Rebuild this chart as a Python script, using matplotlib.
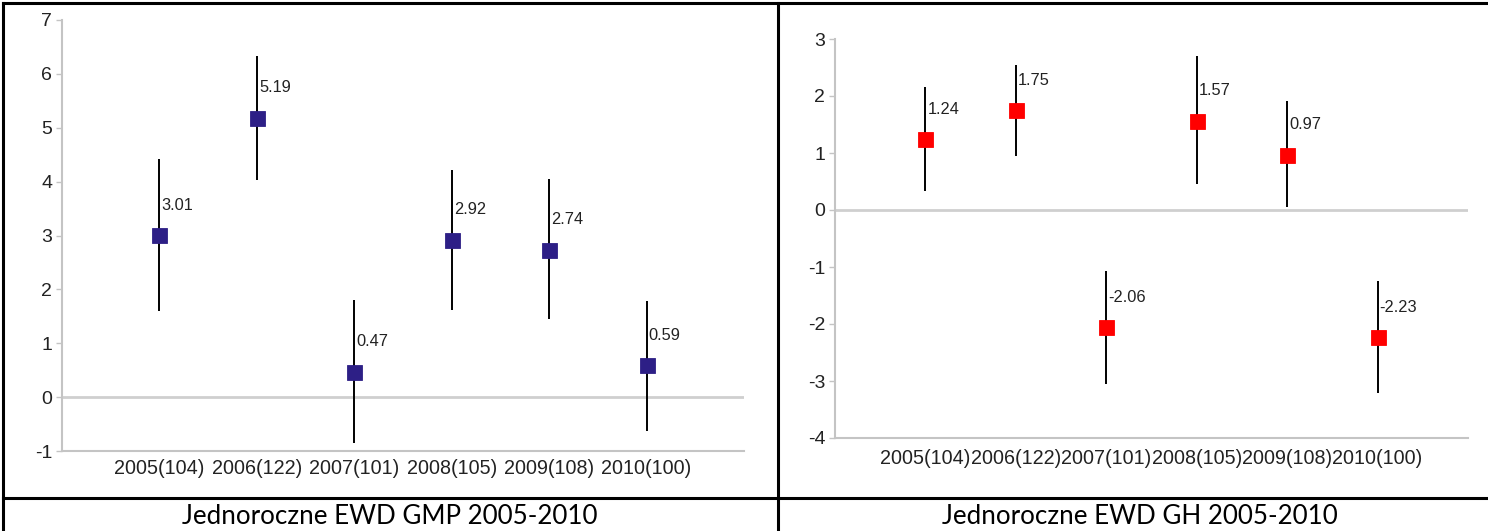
import numpy as np
import matplotlib.pyplot as plt
from matplotlib.lines import Line2D

plt.rcParams['font.family'] = ['Liberation Sans', 'DejaVu Sans']
plt.rcParams['axes.unicode_minus'] = False

# wspólne etykiety lat (liczba szkół w nawiasie)
years = ['2005(104)', '2006(122)', '2007(101)', '2008(105)', '2009(108)', '2010(100)']

# EWD GMP: wartość oraz granice przedziału
gmp_value = [3.01, 5.19, 0.47, 2.92, 2.74, 0.59]
gmp_lower = [1.60, 4.03, -0.85, 1.61, 1.45, -0.62]
gmp_upper = [4.42, 6.34, 1.81, 4.22, 4.04, 1.79]

# EWD GH: wartość oraz granice przedziału
gh_value = [1.24, 1.75, -2.06, 1.57, 0.97, -2.23]
gh_lower = [0.33, 0.95, -3.05, 0.46, 0.05, -3.21]
gh_upper = [2.16, 2.54, -1.07, 2.70, 1.91, -1.24]

captions = ['Jednoroczne EWD GMP 2005-2010', 'Jednoroczne EWD GH 2005-2010']

W, H = 1488, 531


def px_rect(x0, y0, x1, y1):
    # prostokąt w pikselach (od góry) -> współrzędne figury
    return [x0 / W, 1 - y1 / H, (x1 - x0) / W, (y1 - y0) / H]


def ewd_panel(ax, value, lower, upper, color, ylim, label_pad):
    x = np.arange(1, len(years) + 1)

    ax.axhline(0, color='#cfcfcf', lw=2, zorder=1)
    ax.vlines(x, lower, upper, color='black', lw=1.4, zorder=2)
    ax.plot(x, value, 's', color=color, markersize=10.8, markeredgewidth=0.6,
            markeredgecolor=color, zorder=3)

    for xi, v in zip(x, value):
        ax.annotate(f'{v:.2f}', (xi, v), xytext=(1.5, 21.5),
                    textcoords='offset points', ha='left', va='center',
                    fontsize=11.8, color='#222222', zorder=4)

    ax.set_xlim(0, len(years) + 1)
    ax.set_ylim(*ylim)
    ax.set_yticks(np.arange(ylim[0], ylim[1] + 1))
    ax.set_xticks(x, years)

    for side in ['top', 'right']:
        ax.spines[side].set_visible(False)
    for side in ['left', 'bottom']:
        ax.spines[side].set_color('#c4c4c4')
        ax.spines[side].set_linewidth(1.5)

    ax.tick_params(axis='y', length=4, width=1, color='#c4c4c4', pad=3,
                   labelsize=14, labelcolor='#222222')
    ax.tick_params(axis='x', length=0, pad=label_pad,
                   labelsize=14.2, labelcolor='#222222')


fig = plt.figure(figsize=(W / 100, H / 100), dpi=100)

ax1 = fig.add_axes(px_rect(62, 20, 744, 451))
ewd_panel(ax1, gmp_value, gmp_lower, gmp_upper, '#2d1f86', (-1, 7), 6)

ax2 = fig.add_axes(px_rect(835, 39, 1468, 438))
ewd_panel(ax2, gh_value, gh_lower, gh_upper, '#ff0000', (-4, 3), 8)

# ramka tabeli
border = dict(color='black', lw=2.2, transform=fig.transFigure)
for xs, ys in [((3, W), (3, 3)), ((3, 3), (3, H)), ((778, 778), (3, H)),
               ((3, W), (498, 498))]:
    fig.add_artist(Line2D([x / W for x in xs], [1 - y / H for y in ys], **border))

fig.text(390 / W, 1 - 517 / H, captions[0], ha='center', va='center',
         fontsize=18.7, family=['Lato', 'DejaVu Sans'])
fig.text(1140 / W, 1 - 517 / H, captions[1], ha='center', va='center',
         fontsize=18.7, family=['Lato', 'DejaVu Sans'])

fig.savefig('out.png', dpi=100)
